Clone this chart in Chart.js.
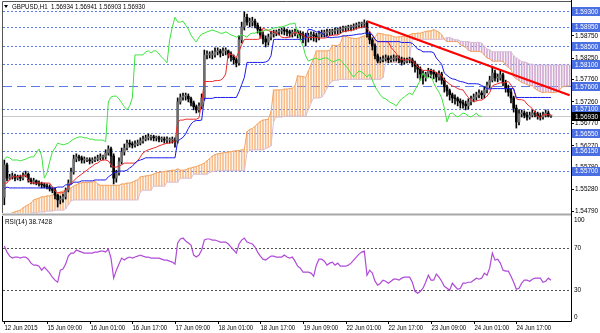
<!DOCTYPE html>
<html><head><meta charset="utf-8">
<script src="https://cdn.jsdelivr.net/npm/chart.js@4"></script>
<style>
html,body{margin:0;padding:0;background:#fff;width:600px;height:333px;overflow:hidden;}
#wrap{position:relative;width:600px;height:333px;}
canvas{position:absolute;left:0;top:0;}
</style></head><body>
<div id="wrap">
<canvas id="rsi" width="600" height="333"></canvas>
<canvas id="main" width="600" height="216"></canvas>
</div>
<script>
const tickLabels = ['12 Jun 2015','15 Jun 09:00','16 Jun 01:00','16 Jun 17:00','17 Jun 09:00','18 Jun 01:00','18 Jun 17:00','19 Jun 09:00','22 Jun 01:00','22 Jun 17:00','23 Jun 09:00','24 Jun 01:00','24 Jun 17:00'];
const firstOpen = 1.5510;
const closes = [1.5583,1.5553,1.5556,1.5558,1.5553,1.5556,1.5553,1.5558,1.5562,1.5549,1.5544,1.5547,1.5542,1.5540,1.5538,1.5535,1.5533,1.5529,1.5526,1.5515,
1.5504,1.5506,1.5511,1.5526,1.5542,1.5567,1.5596,1.5601,1.5599,1.5594,1.5594,1.5594,1.5592,1.5594,1.5596,1.5599,1.5601,1.5601,1.5610,1.5619,
1.5603,1.5553,1.5565,1.5590,1.5612,1.5621,1.5632,1.5630,1.5628,1.5630,1.5632,1.5637,1.5641,1.5644,1.5646,1.5646,1.5644,1.5644,1.5641,1.5641,
1.5639,1.5639,1.5639,1.5639,1.5635,1.5725,1.5736,1.5738,1.5738,1.5732,1.5723,1.5714,1.5707,1.5716,1.5734,1.5831,1.5831,1.5831,1.5831,1.5838,
1.5840,1.5835,1.5840,1.5840,1.5833,1.5826,1.5820,1.5813,1.5865,1.5894,1.5916,1.5905,1.5905,1.5907,1.5898,1.5889,1.5876,1.5867,1.5860,1.5871,
1.5878,1.5880,1.5883,1.5885,1.5887,1.5885,1.5883,1.5880,1.5880,1.5883,1.5880,1.5876,1.5874,1.5871,1.5874,1.5876,1.5874,1.5871,1.5878,1.5880,
1.5880,1.5883,1.5883,1.5885,1.5887,1.5887,1.5889,1.5892,1.5892,1.5894,1.5894,1.5896,1.5898,1.5901,1.5901,1.5903,1.5878,1.5865,1.5851,1.5829,
1.5817,1.5820,1.5822,1.5824,1.5820,1.5822,1.5824,1.5824,1.5820,1.5815,1.5817,1.5820,1.5820,1.5813,1.5806,1.5799,1.5788,1.5781,1.5788,1.5795,
1.5792,1.5788,1.5781,1.5788,1.5774,1.5759,1.5750,1.5741,1.5734,1.5732,1.5727,1.5723,1.5720,1.5716,1.5725,1.5732,1.5736,1.5741,1.5745,1.5741,
1.5752,1.5763,1.5774,1.5790,1.5779,1.5779,1.5786,1.5768,1.5756,1.5747,1.5734,1.5711,1.5680,1.5698,1.5700,1.5695,1.5691,1.5695,1.5700,1.5698,
1.5693,1.5691,1.5695,1.5700,1.5693,1.5693];
const highs = [1.5594,1.5587,1.5562,1.5565,1.5562,1.5560,1.5560,1.5565,1.5569,1.5565,1.5553,1.5553,1.5549,1.5547,1.5544,1.5542,1.5540,1.5538,1.5533,1.5531,
1.5517,1.5513,1.5517,1.5531,1.5549,1.5576,1.5605,1.5608,1.5605,1.5603,1.5601,1.5599,1.5599,1.5599,1.5601,1.5605,1.5608,1.5605,1.5617,1.5626,
1.5623,1.5608,1.5571,1.5599,1.5621,1.5630,1.5639,1.5639,1.5635,1.5637,1.5639,1.5644,1.5648,1.5650,1.5653,1.5650,1.5650,1.5648,1.5648,1.5646,
1.5646,1.5646,1.5644,1.5646,1.5644,1.5734,1.5743,1.5745,1.5745,1.5743,1.5736,1.5727,1.5718,1.5723,1.5743,1.5842,1.5840,1.5838,1.5840,1.5847,
1.5847,1.5844,1.5847,1.5847,1.5842,1.5838,1.5831,1.5824,1.5874,1.5905,1.5928,1.5923,1.5914,1.5916,1.5912,1.5903,1.5894,1.5883,1.5874,1.5878,
1.5885,1.5887,1.5887,1.5889,1.5892,1.5892,1.5889,1.5887,1.5887,1.5889,1.5887,1.5885,1.5883,1.5880,1.5880,1.5883,1.5883,1.5880,1.5885,1.5887,
1.5887,1.5889,1.5889,1.5889,1.5892,1.5892,1.5894,1.5896,1.5896,1.5898,1.5898,1.5901,1.5903,1.5905,1.5905,1.5910,1.5907,1.5883,1.5869,1.5856,
1.5833,1.5826,1.5829,1.5831,1.5829,1.5829,1.5831,1.5829,1.5829,1.5826,1.5824,1.5824,1.5826,1.5824,1.5817,1.5810,1.5804,1.5795,1.5792,1.5801,
1.5799,1.5797,1.5792,1.5795,1.5792,1.5779,1.5763,1.5754,1.5745,1.5741,1.5736,1.5732,1.5729,1.5727,1.5732,1.5738,1.5743,1.5747,1.5752,1.5750,
1.5759,1.5770,1.5783,1.5804,1.5797,1.5788,1.5795,1.5790,1.5774,1.5763,1.5754,1.5738,1.5718,1.5707,1.5707,1.5705,1.5702,1.5702,1.5707,1.5705,
1.5702,1.5700,1.5702,1.5707,1.5705,1.56941];
const lows = [1.5493,1.5547,1.5549,1.5551,1.5547,1.5549,1.5547,1.5549,1.5556,1.5544,1.5540,1.5540,1.5538,1.5535,1.5531,1.5531,1.5529,1.5524,1.5520,1.5506,
1.5488,1.5495,1.5499,1.5506,1.5522,1.5540,1.5562,1.5590,1.5592,1.5587,1.5587,1.5590,1.5585,1.5587,1.5590,1.5592,1.5594,1.5594,1.5596,1.5605,
1.5578,1.5540,1.5544,1.5560,1.5585,1.5605,1.5617,1.5623,1.5621,1.5623,1.5626,1.5628,1.5632,1.5637,1.5639,1.5639,1.5637,1.5637,1.5635,1.5635,
1.5632,1.5632,1.5632,1.5632,1.5623,1.5632,1.5720,1.5729,1.5729,1.5725,1.5716,1.5707,1.5700,1.5702,1.5709,1.5729,1.5822,1.5824,1.5822,1.5826,
1.5831,1.5826,1.5829,1.5831,1.5824,1.5817,1.5810,1.5804,1.5808,1.5858,1.5887,1.5898,1.5894,1.5896,1.5892,1.5880,1.5869,1.5856,1.5849,1.5853,
1.5865,1.5871,1.5874,1.5876,1.5878,1.5876,1.5874,1.5871,1.5871,1.5874,1.5869,1.5865,1.5858,1.5851,1.5860,1.5865,1.5862,1.5860,1.5865,1.5871,
1.5871,1.5874,1.5874,1.5876,1.5878,1.5878,1.5880,1.5883,1.5883,1.5885,1.5885,1.5887,1.5889,1.5892,1.5892,1.5894,1.5871,1.5856,1.5842,1.5822,
1.5813,1.5813,1.5815,1.5817,1.5813,1.5815,1.5817,1.5817,1.5813,1.5808,1.5810,1.5813,1.5813,1.5804,1.5792,1.5779,1.5774,1.5765,1.5772,1.5781,
1.5779,1.5777,1.5770,1.5774,1.5765,1.5747,1.5738,1.5729,1.5723,1.5720,1.5716,1.5711,1.5711,1.5707,1.5709,1.5718,1.5725,1.5729,1.5734,1.5732,
1.5734,1.5745,1.5756,1.5770,1.5772,1.5770,1.5774,1.5761,1.5747,1.5738,1.5723,1.5702,1.5666,1.5673,1.5691,1.5689,1.5684,1.5686,1.5691,1.5691,
1.5686,1.5684,1.5686,1.5691,1.5691,1.56903];
const tenkan = [1.5542,1.5542,1.5551,1.5556,1.5556,1.5556,1.5558,1.5558,1.5560,1.5549,1.5542,1.5542,1.5542,1.5542,1.5542,1.5542,1.5542,1.5542,1.5533,1.5524,
1.5520,1.5520,1.5520,1.5526,1.5533,1.5542,1.5547,1.5553,1.5558,1.5562,1.5567,1.5571,1.5576,1.5580,1.5585,1.5587,1.5592,1.5594,1.5594,1.5592,
1.5583,1.5578,1.5578,1.5580,1.5583,1.5587,1.5587,1.5587,1.5587,1.5587,1.5592,1.5601,1.5610,1.5614,1.5617,1.5619,1.5621,1.5623,1.5626,1.5628,
1.5630,1.5632,1.5632,1.5635,1.5635,1.5680,1.5684,1.5684,1.5686,1.5686,1.5686,1.5686,1.5686,1.5689,1.5723,1.5771,1.5771,1.5771,1.5771,1.5773,
1.5773,1.5774,1.5778,1.5788,1.5834,1.5832,1.5829,1.5825,1.5839,1.5854,1.5866,1.5866,1.5866,1.5866,1.5866,1.5866,1.5868,1.5892,1.5888,1.5886,
1.5883,1.5883,1.5880,1.5876,1.5871,1.5870,1.5870,1.5872,1.5878,1.5882,1.5880,1.5878,1.5875,1.5871,1.5870,1.5870,1.5870,1.5870,1.5869,1.5869,
1.5869,1.5870,1.5875,1.5875,1.5876,1.5876,1.5879,1.5884,1.5884,1.5886,1.5886,1.5888,1.5891,1.5892,1.5893,1.5896,1.5891,1.5883,1.5876,1.5866,
1.5861,1.5861,1.5861,1.5861,1.5860,1.5848,1.5841,1.5834,1.5823,1.5820,1.5820,1.5820,1.5820,1.5817,1.5812,1.5804,1.5801,1.5796,1.5796,1.5796,
1.5796,1.5795,1.5791,1.5788,1.5785,1.5774,1.5770,1.5765,1.5761,1.5759,1.5755,1.5753,1.5752,1.5743,1.5735,1.5730,1.5726,1.5727,1.5729,1.5729,
1.5733,1.5738,1.5746,1.5761,1.5764,1.5766,1.5768,1.5768,1.5769,1.5771,1.5763,1.5753,1.5732,1.5730,1.5730,1.5728,1.5720,1.5715,1.5710,1.5702,
1.5692,1.5690,1.5696,1.5696,1.5696,1.5696];
const kijun = [1.5529,1.5533,1.5531,1.5531,1.5531,1.5531,1.5531,1.5531,1.5531,1.5531,1.5531,1.5531,1.5531,1.5531,1.5531,1.5531,1.5531,1.5531,1.5531,1.5531,
1.5533,1.5533,1.5533,1.5538,1.5538,1.5538,1.5544,1.5544,1.5544,1.5547,1.5547,1.5547,1.5547,1.5547,1.5549,1.5549,1.5549,1.5549,1.5549,1.5556,
1.5560,1.5565,1.5567,1.5569,1.5569,1.5569,1.5571,1.5576,1.5580,1.5587,1.5592,1.5594,1.5596,1.5599,1.5599,1.5599,1.5599,1.5599,1.5599,1.5599,
1.5599,1.5599,1.5599,1.5599,1.5599,1.5637,1.5641,1.5645,1.5653,1.5665,1.5675,1.5681,1.5683,1.5683,1.5684,1.5733,1.5733,1.5733,1.5733,1.5735,
1.5735,1.5735,1.5735,1.5735,1.5735,1.5735,1.5735,1.5735,1.5748,1.5764,1.5780,1.5814,1.5814,1.5814,1.5814,1.5814,1.5814,1.5814,1.5815,1.5818,
1.5829,1.5866,1.5866,1.5866,1.5866,1.5866,1.5866,1.5866,1.5866,1.5866,1.5866,1.5866,1.5866,1.5868,1.5889,1.5888,1.5886,1.5883,1.5883,1.5880,
1.5876,1.5871,1.5870,1.5870,1.5871,1.5871,1.5872,1.5874,1.5874,1.5875,1.5875,1.5876,1.5877,1.5878,1.5878,1.5880,1.5880,1.5880,1.5876,1.5866,
1.5861,1.5861,1.5861,1.5861,1.5861,1.5861,1.5861,1.5861,1.5861,1.5859,1.5859,1.5859,1.5859,1.5857,1.5851,1.5844,1.5842,1.5838,1.5838,1.5838,
1.5838,1.5836,1.5824,1.5817,1.5810,1.5790,1.5785,1.5780,1.5777,1.5776,1.5773,1.5771,1.5770,1.5768,1.5766,1.5766,1.5766,1.5766,1.5765,1.5762,
1.5759,1.5755,1.5754,1.5755,1.5755,1.5755,1.5755,1.5755,1.5755,1.5755,1.5755,1.5755,1.5735,1.5735,1.5735,1.5735,1.5735,1.5735,1.5735,1.5735,
1.5735,1.5735,1.5735,1.5735,1.5735,1.5735];
const senkouA = [1.5468,1.5470,1.5472,1.5475,1.5477,1.5479,1.5481,1.5486,1.5490,1.5493,1.5497,1.5504,1.5506,1.5508,1.5511,1.5511,1.5513,1.5513,1.5515,1.5517,
1.5520,1.5522,1.5524,1.5526,1.5529,1.5531,1.5535,1.5538,1.5541,1.5543,1.5543,1.5543,1.5544,1.5544,1.5546,1.5540,1.5537,1.5537,1.5537,1.5537,
1.5537,1.5537,1.5537,1.5537,1.5540,1.5540,1.5542,1.5542,1.5544,1.5547,1.5549,1.5556,1.5557,1.5558,1.5559,1.5560,1.5562,1.5565,1.5566,1.5567,
1.5568,1.5569,1.5570,1.5571,1.5571,1.5574,1.5571,1.5571,1.5572,1.5575,1.5576,1.5578,1.5579,1.5582,1.5584,1.5587,1.5592,1.5597,1.5603,1.5606,
1.5608,1.5609,1.5610,1.5611,1.5612,1.5613,1.5614,1.5615,1.5615,1.5617,1.5617,1.5658,1.5663,1.5665,1.5670,1.5676,1.5681,1.5684,1.5685,1.5686,
1.5703,1.5752,1.5752,1.5752,1.5752,1.5754,1.5754,1.5755,1.5756,1.5761,1.5784,1.5783,1.5782,1.5780,1.5794,1.5809,1.5823,1.5840,1.5840,1.5840,
1.5840,1.5840,1.5841,1.5853,1.5852,1.5852,1.5856,1.5874,1.5873,1.5871,1.5869,1.5868,1.5868,1.5869,1.5872,1.5874,1.5873,1.5872,1.5870,1.5870,
1.5880,1.5879,1.5878,1.5876,1.5876,1.5875,1.5872,1.5871,1.5872,1.5872,1.5874,1.5874,1.5876,1.5879,1.5879,1.5880,1.5880,1.5882,1.5884,1.5885,
1.5885,1.5888,1.5885,1.5882,1.5876,1.5866,1.5861,1.5861,1.5861,1.5861,1.5861,1.5854,1.5851,1.5848,1.5842,1.5839,1.5839,1.5839,1.5839,1.5837,
1.5831,1.5824,1.5822,1.5817,1.5817,1.5817,1.5817,1.5816,1.5808,1.5803,1.5798,1.5782,1.5777,1.5773,1.5769,1.5767,1.5764,1.5762,1.5761,1.5755,
1.5751,1.5748,1.5746,1.5747,1.5747,1.5746,1.5746,1.5747,1.5750,1.5758,1.5760,1.5761,1.5761];
const senkouB = [1.5465,1.5465,1.5465,1.5468,1.5468,1.5468,1.5470,1.5470,1.5472,1.5472,1.5475,1.5475,1.5475,1.5477,1.5477,1.5477,1.5479,1.5479,1.5479,1.5481,
1.5481,1.5481,1.5481,1.5484,1.5493,1.5502,1.5504,1.5504,1.5504,1.5504,1.5504,1.5504,1.5504,1.5504,1.5504,1.5504,1.5504,1.5504,1.5504,1.5504,
1.5504,1.5504,1.5504,1.5504,1.5504,1.5504,1.5504,1.5504,1.5504,1.5504,1.5504,1.5522,1.5526,1.5526,1.5526,1.5526,1.5535,1.5535,1.5535,1.5535,
1.5535,1.5544,1.5544,1.5544,1.5544,1.5544,1.5553,1.5553,1.5553,1.5553,1.5553,1.5562,1.5562,1.5562,1.5562,1.5562,1.5562,1.5566,1.5568,1.5569,
1.5570,1.5570,1.5570,1.5570,1.5570,1.5570,1.5570,1.5570,1.5570,1.5570,1.5570,1.5611,1.5615,1.5617,1.5617,1.5617,1.5617,1.5617,1.5620,1.5622,
1.5626,1.5682,1.5691,1.5691,1.5691,1.5693,1.5693,1.5693,1.5693,1.5693,1.5693,1.5693,1.5693,1.5693,1.5707,1.5723,1.5734,1.5734,1.5734,1.5736,
1.5744,1.5756,1.5766,1.5772,1.5774,1.5774,1.5776,1.5776,1.5776,1.5776,1.5776,1.5776,1.5776,1.5776,1.5776,1.5776,1.5776,1.5776,1.5776,1.5776,
1.5776,1.5776,1.5780,1.5814,1.5814,1.5814,1.5814,1.5814,1.5814,1.5814,1.5815,1.5818,1.5829,1.5866,1.5866,1.5866,1.5866,1.5866,1.5866,1.5866,
1.5866,1.5866,1.5866,1.5866,1.5866,1.5868,1.5870,1.5870,1.5868,1.5865,1.5865,1.5862,1.5861,1.5861,1.5861,1.5859,1.5859,1.5859,1.5859,1.5857,
1.5851,1.5844,1.5842,1.5838,1.5838,1.5838,1.5838,1.5838,1.5838,1.5838,1.5838,1.5829,1.5824,1.5820,1.5816,1.5815,1.5813,1.5810,1.5810,1.5808,
1.5808,1.5808,1.5808,1.5808,1.5808,1.5808,1.5808,1.5808,1.5808,1.5808,1.5808,1.5808,1.5808];
const rsiValues = [71.4,65.6,61.8,59.9,60.9,60.9,59.9,60.9,60.9,58.9,55.1,53.2,53.2,52.2,48.4,51.3,48.4,45.6,41.7,38.9,
36.9,48.4,49.4,54.2,61.8,64.7,64.7,67.6,66.6,65.6,64.7,64.7,64.7,64.7,65.6,65.6,66.6,66.6,65.6,68.5,
59.9,40.8,48.4,54.2,59.9,58.0,59.9,60.9,59.9,60.9,61.8,62.8,61.8,60.9,60.9,59.9,59.9,59.9,59.9,58.9,
58.0,58.0,57.0,56.1,54.2,74.3,78.1,79.0,76.2,74.3,72.3,62.8,60.9,62.8,67.6,77.1,78.1,78.1,77.1,77.1,
76.2,75.2,75.2,75.2,73.3,70.4,67.6,64.7,73.3,77.1,79.0,75.2,74.3,73.3,70.4,65.6,61.8,58.9,58.0,59.9,
61.8,61.8,60.9,60.9,60.9,62.8,60.9,59.9,60.9,57.0,52.2,50.3,46.5,46.5,46.5,45.6,42.7,53.2,58.9,58.9,
57.0,53.2,55.1,56.1,53.2,55.1,52.2,52.2,52.2,53.2,55.1,58.0,60.9,63.7,65.6,66.6,43.6,48.4,45.6,37.9,
34.1,36.0,38.9,37.9,36.0,37.9,39.8,39.8,38.9,40.8,41.7,41.7,41.7,36.9,28.3,26.4,28.3,31.2,36.9,43.6,
38.9,38.9,44.6,41.7,37.9,33.1,31.2,29.3,36.0,33.1,30.2,31.2,36.0,36.0,36.9,36.9,38.9,40.8,39.8,40.8,
45.6,43.6,50.3,64.7,58.0,58.9,55.1,48.4,47.5,47.5,42.7,36.9,30.2,31.2,36.0,38.9,38.9,37.9,39.8,40.8,
40.8,40.8,36.9,37.9,40.8,38.74];
const priceTicks = [1.5479,1.5528,1.5579,1.5627,1.5677,1.5726,1.5776,1.5825,1.5875];
const levelLines = [1.5930,1.5895,1.5850,1.5810,1.5760,1.5710,1.5655,1.5615,1.5570];
const lastPrice = 1.5693;
const rsiLevels = [30,70];
const rsiAxisLabels = [0,30,70,100];
const trendBars = [136,212];
const trendPrices = [1.5907,1.5740];
const headerText = 'GBPUSD,H1  1.56934 1.56941 1.56903 1.56930';
const rsiTitle = 'RSI(14) 38.7428';

const chikouShift = 26;
const N = senkouA.length;
const labels = Array.from({length:N},(_,i)=> (i%16===0 && tickLabels[i/16]) ? tickLabels[i/16] : '');
const opens = closes.map((c,i)=> i===0 ? firstOpen : closes[i-1]);
const bodyData = closes.map((c,i)=>[opens[i],c]);
const wickData = closes.map((c,i)=>[lows[i],highs[i]]);
const candleColors = closes.map((c,i)=> c>=opens[i] ? '#6e6e6e' : '#000000');
const chikou = Array.from({length:N},(_,i)=> closes[i+chikouShift]!==undefined ? closes[i+chikouShift] : null);
const trendData = Array.from({length:N},()=>null);
trendBars.forEach((b,k)=>{trendData[b]=trendPrices[k];});
const cloudData = senkouA.map((a,i)=>[a,senkouB[i]]);
const cloudColors = senkouA.map((a,i)=> a>=senkouB[i] ? 'rgba(244,164,96,0.72)' : 'rgba(205,160,205,0.9)');

const Y_MIN = 1.54745, Y_MAX = 1.59503;
const FONT = '"Liberation Sans", Arial, sans-serif';

function txt(ctx, s, x, y, size, sx, color, align){
  ctx.save();
  ctx.font = size+'px '+FONT;
  ctx.fillStyle = color; ctx.textBaseline='middle';
  ctx.translate(x,y); ctx.scale(sx,1);
  ctx.textAlign = align||'left';
  ctx.fillText(s,0,0);
  ctx.restore();
}
function hline(ctx,x1,x2,y,color,dash){
  ctx.save(); ctx.strokeStyle=color; ctx.lineWidth=1; ctx.setLineDash(dash||[]);
  ctx.beginPath(); ctx.moveTo(x1,y); ctx.lineTo(x2,y); ctx.stroke(); ctx.restore();
}

const mainDeco = {
  id:'mainDeco',
  beforeDatasetsDraw(chart){
    const {ctx, chartArea:a, scales:{y}} = chart;
    hline(ctx,a.left,a.right,Math.round(y.getPixelForValue(lastPrice))+0.5,'#c8c8c8');
    levelLines.forEach((v,k)=>{
      const py = Math.round(y.getPixelForValue(v))+0.5;
      hline(ctx,a.left,a.right,py,'#5b7be6',k===4?[9,5]:[2,2]);
    });
  },
  afterDraw(chart){
    const {ctx, chartArea:a, scales:{y}} = chart;
    ctx.save();
    ctx.strokeStyle='#555'; ctx.lineWidth=1;
    ctx.beginPath(); ctx.moveTo(2.5,213); ctx.lineTo(2.5,1.5); ctx.lineTo(a.right,1.5); ctx.stroke();
    ctx.strokeStyle='#000';
    ctx.beginPath(); ctx.moveTo(a.right+0.5,0); ctx.lineTo(a.right+0.5,216); ctx.stroke();
    ctx.fillStyle='#a8a8a8'; ctx.fillRect(2,213.5,a.right-2,2);
    ctx.restore();
    y.ticks.forEach(t=>{
      const py = y.getPixelForValue(t.value);
      hline(ctx,a.right+1,a.right+3,Math.round(py)+0.5,'#000');
      txt(ctx,t.value.toFixed(5),a.right+4,py,8,0.8,'#000');
    });
    levelLines.forEach(v=>{
      const py = y.getPixelForValue(v);
      ctx.fillStyle='#4a6fe3'; ctx.fillRect(a.right+1,Math.round(py)-4,28,9);
      txt(ctx,v.toFixed(5),a.right+4,py+0.5,8,0.8,'#fff');
    });
    const lp = y.getPixelForValue(lastPrice);
    ctx.fillStyle='#000'; ctx.fillRect(a.right+1,Math.round(lp)-4,28,9);
    txt(ctx,lastPrice.toFixed(5),a.right+4,lp+0.5,8,0.8,'#fff');
    ctx.save(); ctx.fillStyle='#000'; ctx.beginPath(); ctx.moveTo(4,5); ctx.lineTo(8,5); ctx.lineTo(6,8); ctx.closePath(); ctx.fill(); ctx.restore();
    txt(ctx,headerText,12,6.5,8,0.77,'#000');
  }
};

const lineOpts = {type:'line',borderWidth:1,pointRadius:0,tension:0};
new Chart(document.getElementById('main'),{
  type:'bar',
  data:{labels, datasets:[
    {type:'line',label:'trend',data:trendData,borderColor:'#ff0000',borderWidth:2.2,pointRadius:0,spanGaps:true,order:0},
    {...lineOpts,label:'chikou',data:chikou,borderColor:'#3ce43c',order:1},
    {...lineOpts,label:'kijun',data:kijun,borderColor:'#1a1aee',order:1},
    {...lineOpts,label:'tenkan',data:tenkan,borderColor:'#f02828',order:1},
    {type:'bar',label:'body',data:bodyData,backgroundColor:candleColors,barThickness:2,minBarLength:1,grouped:false,order:2},
    {type:'bar',label:'wick',data:wickData,backgroundColor:'#000000',barThickness:1,grouped:false,order:3},
    {...lineOpts,label:'senkouA',data:senkouA,borderColor:'#f4a460',order:4},
    {...lineOpts,label:'senkouB',data:senkouB,borderColor:'#d8bfd8',order:4},
    {type:'bar',label:'cloud',data:cloudData,backgroundColor:cloudColors,barThickness:1,grouped:false,order:5}
  ]},
  options:{
    responsive:false, animation:false, devicePixelRatio:1,
    layout:{padding:{left:3,top:2,bottom:3,right:0}},
    plugins:{legend:{display:false},tooltip:{enabled:false}},
    scales:{
      x:{type:'category',display:false,offset:true,grid:{display:false}},
      y:{type:'linear',position:'right',min:Y_MIN,max:Y_MAX,
         afterFit(s){s.width=29;},
         afterBuildTicks(s){s.ticks=priceTicks.map(v=>({value:v}));},
         ticks:{display:false},grid:{display:false},border:{display:false}}
    }
  },
  plugins:[mainDeco]
});

const rsiDeco = {
  id:'rsiDeco',
  beforeDatasetsDraw(chart){
    const {ctx, chartArea:a, scales:{y}} = chart;
    rsiLevels.forEach(v=>hline(ctx,a.left,a.right,Math.round(y.getPixelForValue(v))+0.5,'#505050',[2,2]));
  },
  afterDraw(chart){
    const {ctx, chartArea:a, scales:{x,y}} = chart;
    ctx.save(); ctx.strokeStyle='#000'; ctx.lineWidth=1;
    ctx.beginPath(); ctx.moveTo(2.5,216); ctx.lineTo(2.5,a.bottom+0.5); ctx.lineTo(a.right+0.5,a.bottom+0.5); ctx.lineTo(a.right+0.5,216); ctx.stroke();
    ctx.restore();
    rsiAxisLabels.forEach(v=>{
      let py = y.getPixelForValue(v);
      if(v===100) py+=4; if(v===0) py-=4;
      txt(ctx,String(v),a.right+3,py,8,0.8,'#000');
    });
    txt(ctx,rsiTitle,5,222,8,0.8,'#000');
    labels.forEach((l,i)=>{
      if(!l) return;
      const px = Math.round(x.getPixelForValue(i))+0.5;
      ctx.save(); ctx.strokeStyle='#000'; ctx.beginPath(); ctx.moveTo(px,a.bottom); ctx.lineTo(px,a.bottom+3); ctx.stroke(); ctx.restore();
      txt(ctx,l,px,a.bottom+6.5,8,0.75,'#000');
    });
  }
};

new Chart(document.getElementById('rsi'),{
  type:'line',
  data:{labels, datasets:[
    {label:'RSI',data:rsiValues,borderColor:'#b04bd8',borderWidth:1.2,pointRadius:0}
  ]},
  options:{
    responsive:false, animation:false, devicePixelRatio:1,
    layout:{padding:{left:3,top:216,bottom:0,right:0}},
    plugins:{legend:{display:false},tooltip:{enabled:false}},
    scales:{
      x:{type:'category',offset:true,afterFit(s){s.height=12;},ticks:{display:false},grid:{display:false},border:{display:false}},
      y:{type:'linear',position:'right',min:0,max:100,afterFit(s){s.width=29;},ticks:{display:false},grid:{display:false},border:{display:false}}
    }
  },
  plugins:[rsiDeco]
});
</script>
</body></html>
